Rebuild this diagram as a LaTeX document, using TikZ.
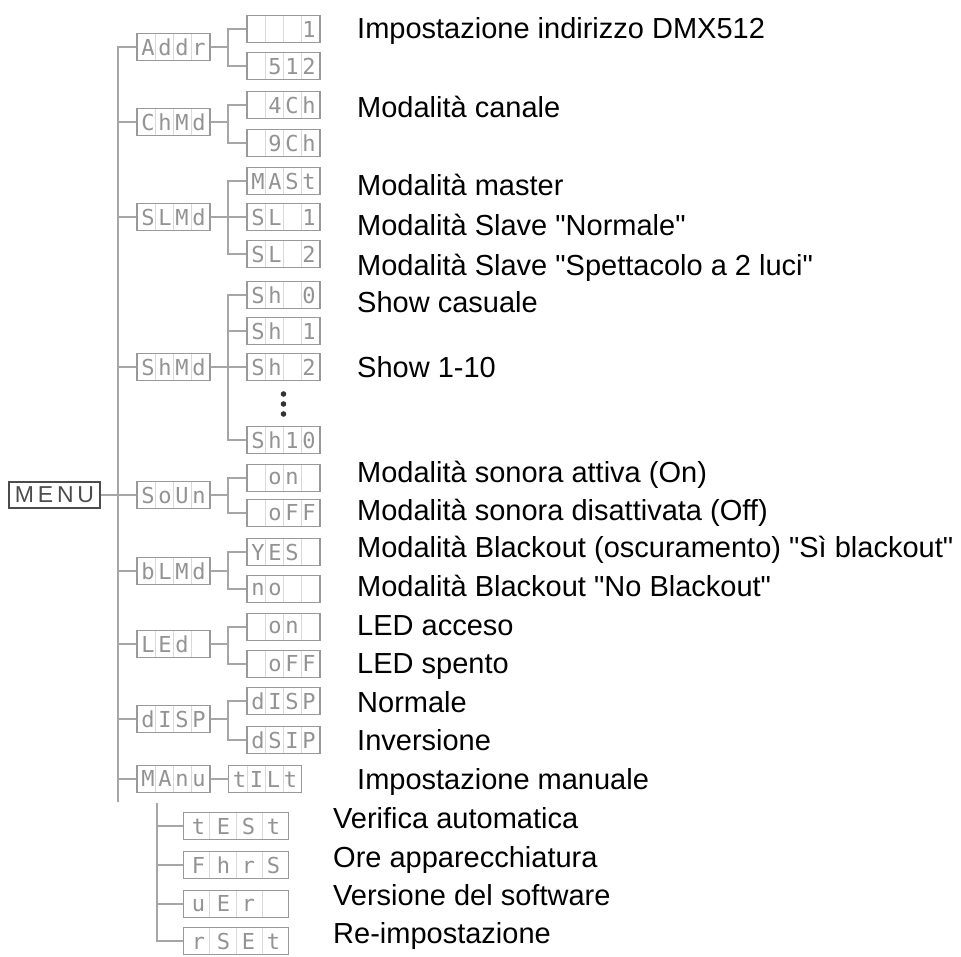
\documentclass[tikz,border=0pt]{standalone}
\usepackage{fontspec}
\setmainfont{Liberation Sans}
\newfontfamily\lblfont{Liberation Sans}
\newfontfamily\lcdfont{DejaVu Sans Mono}
\usepackage{tikz}
\usetikzlibrary{positioning,calc}
% four display cells
\newcommand{\seg}[5][17pt]{\makebox[#1]{#2}\makebox[#1]{#3}\makebox[#1]{#4}\makebox[#1]{#5}}
\tikzset{
  lcd/.style={draw=gray!80,line width=1.6pt,minimum width=73pt,minimum height=27pt,inner sep=0pt,
              font=\lcdfont\fontsize{22}{22}\selectfont,text=gray!85,
              path picture={\foreach \k in {1,2,3}
                \draw[gray!30,line width=0.7pt]
                  ($(path picture bounding box.south west)!\k/4!(path picture bounding box.south east)$) --
                  ($(path picture bounding box.north west)!\k/4!(path picture bounding box.north east)$);}},
  lcdw/.style={lcd,minimum width=105pt},
  menu/.style={draw=gray!60!black,line width=1.3pt,minimum width=91pt,minimum height=26pt,inner sep=0pt,
               font=\lblfont\fontsize{23}{23}\selectfont,text=gray!60!black},
  lbl/.style={anchor=base west,inner sep=0pt,font=\lblfont\fontsize{29}{29}\selectfont},
  ln/.style={draw=gray!70,line width=1.4pt},
}
\begin{document}
\begin{tikzpicture}[x=1pt,y=-1pt]
\useasboundingbox (0,0) rectangle (961,956);
% menu
\node[menu] (menu) at (54.5,495) {M\,E\,N\,U};
% first level
\node[lcd] (addr) at (173.5,47)  {\seg{A}{d}{d}{r}};
\node[lcd] (chmd) at (173.5,122) {\seg{C}{h}{M}{d}};
\node[lcd] (slmd) at (173.5,217) {\seg{S}{L}{M}{d}};
\node[lcd] (shmd) at (173.5,367) {\seg{S}{h}{M}{d}};
\node[lcd] (soun) at (173.5,495) {\seg{S}{o}{U}{n}};
\node[lcd] (blmd) at (173.5,571) {\seg{b}{L}{M}{d}};
\node[lcd] (led)  at (173.5,644) {\seg{L}{E}{d}{}};
\node[lcd] (disp) at (173.5,719) {\seg{d}{I}{S}{P}};
\node[lcd] (manu) at (173.5,779) {\seg{M}{A}{n}{u}};
% second level
\node[lcd] (a1) at (283.5,29)  {\seg{}{}{}{1}};
\node[lcd] (a2) at (283.5,66)  {\seg{}{5}{1}{2}};
\node[lcd] (c1) at (283.5,105) {\seg{}{4}{C}{h}};
\node[lcd] (c2) at (283.5,143) {\seg{}{9}{C}{h}};
\node[lcd] (s1) at (283.5,181) {\seg{M}{A}{S}{t}};
\node[lcd] (s2) at (283.5,217) {\seg{S}{L}{}{1}};
\node[lcd] (s3) at (283.5,254) {\seg{S}{L}{}{2}};
\node[lcd] (h0) at (283.5,295) {\seg{S}{h}{}{0}};
\node[lcd] (h1) at (283.5,331) {\seg{S}{h}{}{1}};
\node[lcd] (h2) at (283.5,367) {\seg{S}{h}{}{2}};
\node[lcd] (h10) at (283.5,440) {\seg{S}{h}{1}{0}};
\node[lcd] (o1) at (283.5,478) {\seg{}{o}{n}{}};
\node[lcd] (o2) at (283.5,513) {\seg{}{o}{F}{F}};
\node[lcd] (b1) at (283.5,552) {\seg{Y}{E}{S}{}};
\node[lcd] (b2) at (283.5,589) {\seg{n}{o}{}{}};
\node[lcd] (l1) at (283.5,627) {\seg{}{o}{n}{}};
\node[lcd] (l2) at (283.5,664) {\seg{}{o}{F}{F}};
\node[lcd] (d1) at (283.5,701) {\seg{d}{I}{S}{P}};
\node[lcd] (d2) at (283.5,740) {\seg{d}{S}{I}{P}};
\node[lcd,right=17pt of manu] (tilt) {\seg{t}{I}{L}{t}};
\foreach \d in {-10,0,10}
  \fill[gray!40!black] (283.5,404+\d) circle (2.8);
% lower block
\node[lcdw] (test) at (236,826) {\seg[25pt]{t}{E}{S}{t}};
\node[lcdw] (fhrs) at (236,865) {\seg[25pt]{F}{h}{r}{S}};
\node[lcdw] (ver)  at (236,904) {\seg[25pt]{u}{E}{r}{}};
\node[lcdw] (rset) at (236,941) {\seg[25pt]{r}{S}{E}{t}};
% connectors
\coordinate (bot) at (118,802);
\coordinate (sub) at (157,803);
\draw[ln] (addr.west) -| (bot);
\draw[ln] (menu.east) -- (soun.west);
\foreach \n in {chmd,slmd,shmd,blmd,led,disp,manu}
  \draw[ln] (\n.west) -- (\n.west -| bot);
\foreach \p/\c in {addr/a1,addr/a2,chmd/c1,chmd/c2,slmd/s1,slmd/s2,slmd/s3,
                   shmd/h0,shmd/h1,shmd/h2,shmd/h10,soun/o1,soun/o2,blmd/b1,blmd/b2,
                   led/l1,led/l2,disp/d1,disp/d2}
  \draw[ln] (\p.east) -- ++(17,0) |- (\c.west);
\draw[ln] (manu) -- (tilt);
\draw[ln] (sub) |- (rset.west);
\foreach \n in {test,fhrs,ver}
  \draw[ln] (\n.west) -- (\n.west -| sub);
% descriptions
\foreach \y/\txt [count=\i] in {38/Impostazione indirizzo DMX512,117/Modalità canale,
    195/Modalità master,235/Modalità Slave "Normale",275/Modalità Slave "Spettacolo a 2 luci",
    312/Show casuale,377/Show 1-10,482/Modalità sonora attiva (On),
    520/Modalità sonora disattivata (Off),557/Modalità Blackout (oscuramento) "Sì blackout",
    596/Modalità Blackout "No Blackout",635/LED acceso,673/LED spento,712/Normale,
    750/Inversione,789/Impostazione manuale}
  \node[lbl] (t\i) at (357,\y) {\txt};
\foreach \y/\txt [count=\i] in {828/Verifica automatica,867/Ore apparecchiatura,
    905/Versione del software,943/Re-impostazione}
  \node[lbl] (u\i) at (333,\y) {\txt};
\end{tikzpicture}
\end{document}
